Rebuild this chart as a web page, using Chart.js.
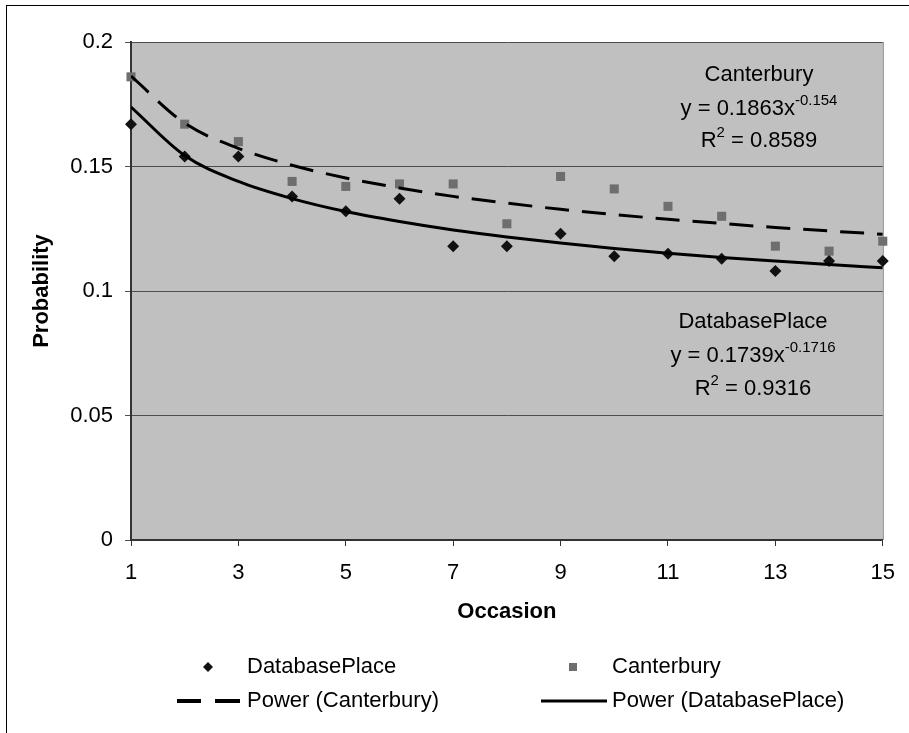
<!DOCTYPE html>
<html>
<head>
<meta charset="utf-8">
<script src="https://cdn.jsdelivr.net/npm/chart.js@4/dist/chart.umd.min.js"></script>
<style>
  body { margin: 0; background: #fff; }
  canvas { display: block; }
</style>
</head>
<body>
<canvas id="chart" width="909" height="733"></canvas>
<script>
// Values
const occasions = [1, 2, 3, 4, 5, 6, 7, 8, 9, 10, 11, 12, 13, 14, 15];
const databasePlace = [0.167, 0.154, 0.154, 0.138, 0.132, 0.137, 0.118, 0.118, 0.123, 0.114, 0.115, 0.113, 0.108, 0.112, 0.112];
const canterbury = [0.186, 0.167, 0.160, 0.144, 0.142, 0.143, 0.143, 0.127, 0.146, 0.141, 0.134, 0.130, 0.118, 0.116, 0.120];
// Power trend lines, read at each occasion
const powerCanterbury = [0.1863, 0.1674, 0.1573, 0.1505, 0.1454, 0.1414, 0.1380, 0.1353, 0.1328, 0.1307, 0.1288, 0.1271, 0.1255, 0.1241, 0.1228];
const powerDatabasePlace = [0.1739, 0.1544, 0.1440, 0.1371, 0.1319, 0.1279, 0.1245, 0.1217, 0.1193, 0.1171, 0.1152, 0.1135, 0.1120, 0.1106, 0.1093];

const xTicks = [1, 3, 5, 7, 9, 11, 13, 15];
const yTicks = [0, 0.05, 0.1, 0.15, 0.2];
const yTickLabels = ['0', '0.05', '0.1', '0.15', '0.2'];

const canterburyFit = { name: 'Canterbury', coef: 'y = 0.1863x', exp: '-0.154', r2: '0.8589' };
const databaseFit = { name: 'DatabasePlace', coef: 'y = 0.1739x', exp: '-0.1716', r2: '0.9316' };

const legendItems = [
  { label: 'DatabasePlace', kind: 'diamond' },
  { label: 'Canterbury', kind: 'square' },
  { label: 'Power (Canterbury)', kind: 'dash' },
  { label: 'Power (DatabasePlace)', kind: 'line' }
];

const FONT = "'Liberation Sans', Arial, sans-serif";

const toPoints = (ys) => occasions.map((x, i) => ({ x, y: ys[i] }));

// plot background, frame, fit labels and the legend
const decorations = {
  id: 'decorations',
  beforeDraw(chart) {
    const { ctx, chartArea: a } = chart;
    ctx.save();
    ctx.fillStyle = '#fff';
    ctx.fillRect(0, 0, chart.width, chart.height);
    // outer frame runs off the right and bottom of the picture
    ctx.strokeStyle = '#000';
    ctx.lineWidth = 1;
    ctx.strokeRect(6.5, 5.5, 920, 750);
    ctx.fillStyle = '#c0c0c0';
    ctx.fillRect(a.left, a.top, a.right - a.left, a.bottom - a.top);
    ctx.strokeStyle = '#808080';
    ctx.beginPath();
    ctx.moveTo(a.right + 0.5, a.top);
    ctx.lineTo(a.right + 0.5, a.bottom);
    ctx.stroke();
    ctx.restore();
  },
  afterDraw(chart) {
    const { ctx } = chart;
    ctx.save();
    ctx.fillStyle = '#000';
    drawFit(ctx, canterburyFit, 759, [81, 115, 147]);
    drawFit(ctx, databaseFit, 753, [328, 362, 395]);
    drawLegend(ctx);
    ctx.restore();
  }
};

function drawSuperLine(ctx, parts, cx, baseline) {
  // parts: [text, isSuper]
  const widths = parts.map(([t, sup]) => {
    ctx.font = (sup ? '15px ' : '22px ') + FONT;
    return ctx.measureText(t).width;
  });
  let x = cx - widths.reduce((s, w) => s + w, 0) / 2;
  ctx.textAlign = 'left';
  ctx.textBaseline = 'alphabetic';
  parts.forEach(([t, sup], i) => {
    ctx.font = (sup ? '15px ' : '22px ') + FONT;
    ctx.fillText(t, x, sup ? baseline - 10 : baseline);
    x += widths[i];
  });
}

function drawFit(ctx, fit, cx, baselines) {
  drawSuperLine(ctx, [[fit.name, false]], cx, baselines[0]);
  drawSuperLine(ctx, [[fit.coef, false], [fit.exp, true]], cx, baselines[1]);
  drawSuperLine(ctx, [['R', false], ['2', true], [' = ' + fit.r2, false]], cx, baselines[2]);
}

function drawLegend(ctx) {
  const cols = [247, 612];
  const rows = [673, 707];
  legendItems.forEach((item, i) => {
    const tx = cols[i % 2];
    const by = rows[Math.floor(i / 2)];
    const my = by - 6;
    ctx.fillStyle = '#000';
    ctx.strokeStyle = '#000';
    if (item.kind === 'diamond') {
      ctx.fillStyle = '#111';
      ctx.beginPath();
      ctx.moveTo(tx - 39, my - 5);
      ctx.lineTo(tx - 34, my);
      ctx.lineTo(tx - 39, my + 5);
      ctx.lineTo(tx - 44, my);
      ctx.closePath();
      ctx.fill();
    } else if (item.kind === 'square') {
      ctx.fillStyle = '#6e6e6e';
      ctx.fillRect(tx - 43, my - 4, 8, 8);
    } else if (item.kind === 'dash') {
      ctx.lineWidth = 4;
      ctx.beginPath();
      ctx.moveTo(tx - 70, my);
      ctx.lineTo(tx - 46, my);
      ctx.moveTo(tx - 32, my);
      ctx.lineTo(tx - 7, my);
      ctx.stroke();
    } else {
      ctx.lineWidth = 3;
      ctx.beginPath();
      ctx.moveTo(tx - 71, my);
      ctx.lineTo(tx - 5, my);
      ctx.stroke();
    }
    ctx.fillStyle = '#000';
    ctx.font = '22px ' + FONT;
    ctx.textAlign = 'left';
    ctx.textBaseline = 'alphabetic';
    ctx.fillText(item.label, tx, by);
  });
}

new Chart(document.getElementById('chart'), {
  type: 'scatter',
  data: {
    datasets: [
      {
        label: 'DatabasePlace',
        data: toPoints(databasePlace),
        pointStyle: 'rectRot',
        pointRadius: 6,
        backgroundColor: '#111',
        borderColor: '#111',
        borderWidth: 0,
        clip: false,
        order: 1
      },
      {
        label: 'Canterbury',
        data: toPoints(canterbury),
        pointStyle: 'rect',
        pointRadius: 6.4,
        backgroundColor: '#6e6e6e',
        borderColor: '#6e6e6e',
        borderWidth: 0,
        clip: false,
        order: 1
      },
      {
        label: 'Power (Canterbury)',
        data: toPoints(powerCanterbury),
        showLine: true,
        pointRadius: 0,
        borderColor: '#000',
        borderWidth: 3,
        borderDash: [24, 13],
        cubicInterpolationMode: 'monotone',
        order: 0
      },
      {
        label: 'Power (DatabasePlace)',
        data: toPoints(powerDatabasePlace),
        showLine: true,
        pointRadius: 0,
        borderColor: '#000',
        borderWidth: 3,
        cubicInterpolationMode: 'monotone',
        order: 0
      }
    ]
  },
  options: {
    responsive: false,
    animation: false,
    devicePixelRatio: 1,
    layout: { padding: { left: 29, right: 20, top: 42, bottom: 93 } },
    plugins: {
      legend: { display: false },
      tooltip: { enabled: false }
    },
    scales: {
      x: {
        type: 'linear',
        min: 1,
        max: 15,
        afterBuildTicks: (scale) => { scale.ticks = xTicks.map(v => ({ value: v })); },
        afterFit: (scale) => { scale.height = 100; },
        grid: { drawOnChartArea: false, tickLength: 6, color: '#333' },
        border: { color: '#333', width: 2 },
        ticks: { color: '#000', font: { family: FONT, size: 22 }, padding: 14, maxRotation: 0, autoSkip: false },
        title: {
          display: true,
          text: 'Occasion',
          color: '#000',
          font: { family: FONT, size: 22, weight: 'bold' },
          padding: { top: 0, bottom: 15 }
        }
      },
      y: {
        min: 0,
        max: 0.2,
        afterBuildTicks: (scale) => { scale.ticks = yTicks.map(v => ({ value: v })); },
        afterFit: (scale) => { scale.width = 102; },
        grid: { color: '#4d4d4d', tickLength: 6 },
        border: { color: '#333', width: 2 },
        ticks: {
          color: '#000',
          font: { family: FONT, size: 22 },
          padding: 12,
          callback: (value, index) => yTickLabels[index]
        },
        title: {
          display: true,
          text: 'Probability',
          color: '#000',
          font: { family: FONT, size: 22, weight: 'bold' },
          padding: { top: 0, bottom: 0 }
        }
      }
    }
  },
  plugins: [decorations]
});
</script>
</body>
</html>
